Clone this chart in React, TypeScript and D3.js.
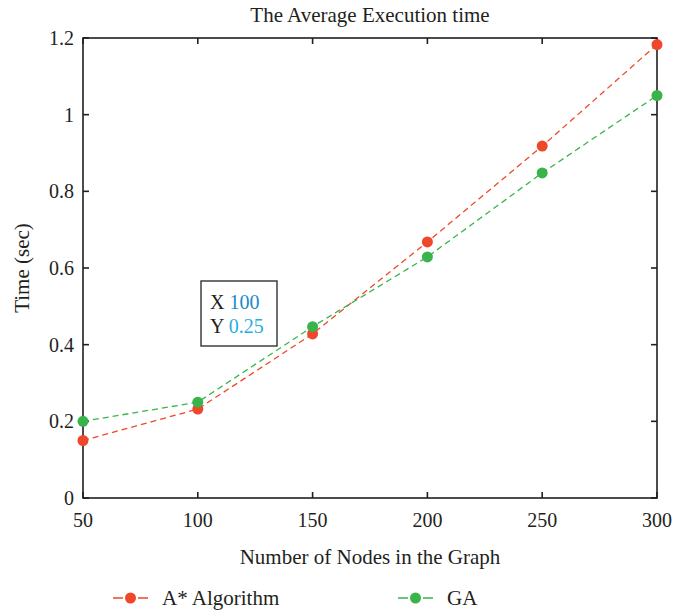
import { useEffect, useRef } from 'react';
import * as d3 from 'd3';

const nodes = [50, 100, 150, 200, 250, 300];
const astarTimes = [0.15, 0.232, 0.428, 0.668, 0.918, 1.183];
const gaTimes = [0.2, 0.25, 0.447, 0.629, 0.848, 1.05];
const xTicks = [50, 100, 150, 200, 250, 300];
const yTicks = [0, 0.2, 0.4, 0.6, 0.8, 1, 1.2];
const seriesNames = ['A* Algorithm', 'GA'];
const seriesColors = ['#ef4729', '#38b44a'];

const W = 673;
const H = 614;
const FONT = '"Liberation Serif", "DejaVu Serif", serif';
const INK = '#231f20';

export default function App() {
  const svgRef = useRef<SVGSVGElement>(null);

  useEffect(() => {
    const svg = d3.select(svgRef.current);
    svg.selectAll('*').remove();

    const m = { left: 83, right: 16, top: 38, bottom: 116 };
    const x = d3.scaleLinear().domain([50, 300]).range([m.left, W - m.right]);
    const y = d3.scaleLinear().domain([0, 1.2]).range([H - m.bottom, m.top]);
    const [x0, x1] = x.range();
    const [y0, y1] = y.range();

    // title
    svg.append('text')
      .attr('x', (x0 + x1) / 2).attr('y', 22)
      .attr('text-anchor', 'middle')
      .attr('font-family', FONT).attr('font-size', 21).attr('fill', INK)
      .text('The Average Execution time');

    // box + inward ticks
    const g = svg.append('g').attr('stroke', INK).attr('stroke-width', 1.6);
    g.append('rect')
      .attr('x', x0).attr('y', y1).attr('width', x1 - x0).attr('height', y0 - y1)
      .attr('fill', 'none');
    const tl = 6;
    xTicks.forEach((t) => {
      g.append('line').attr('x1', x(t)).attr('x2', x(t)).attr('y1', y0).attr('y2', y0 - tl);
      g.append('line').attr('x1', x(t)).attr('x2', x(t)).attr('y1', y1).attr('y2', y1 + tl);
    });
    yTicks.forEach((t) => {
      g.append('line').attr('x1', x0).attr('x2', x0 + tl).attr('y1', y(t)).attr('y2', y(t));
      g.append('line').attr('x1', x1).attr('x2', x1 - tl).attr('y1', y(t)).attr('y2', y(t));
    });

    // tick labels
    svg.append('g').selectAll('text').data(xTicks).join('text')
      .attr('x', (d) => x(d)).attr('y', y0 + 29)
      .attr('text-anchor', 'middle')
      .attr('font-family', FONT).attr('font-size', 20).attr('fill', INK)
      .text((d) => d3.format('d')(d));
    svg.append('g').selectAll('text').data(yTicks).join('text')
      .attr('x', x0 - 9).attr('y', (d) => y(d) + 7)
      .attr('text-anchor', 'end')
      .attr('font-family', FONT).attr('font-size', 20).attr('fill', INK)
      .text((d) => String(d));

    // axis labels
    svg.append('text')
      .attr('x', (x0 + x1) / 2).attr('y', 564)
      .attr('text-anchor', 'middle')
      .attr('font-family', FONT).attr('font-size', 21).attr('fill', INK)
      .text('Number of Nodes in the Graph');
    svg.append('text')
      .attr('transform', `translate(29,${(y0 + y1) / 2}) rotate(-90)`)
      .attr('text-anchor', 'middle')
      .attr('font-family', FONT).attr('font-size', 21).attr('fill', INK)
      .text('Time (sec)');

    // series
    const series = [astarTimes, gaTimes];
    const line = d3.line<number>().x((_, i) => x(nodes[i])).y((d) => y(d));
    series.forEach((vals, si) => {
      svg.append('path')
        .attr('d', line(vals))
        .attr('fill', 'none')
        .attr('stroke', seriesColors[si])
        .attr('stroke-width', 1.3)
        .attr('stroke-dasharray', '6,4');
    });
    series.forEach((vals, si) => {
      svg.append('g').selectAll('circle').data(vals).join('circle')
        .attr('cx', (_, i) => x(nodes[i])).attr('cy', (d) => y(d))
        .attr('r', 5.5)
        .attr('fill', seriesColors[si]);
    });

    // data tip
    const tip = svg.append('g');
    tip.append('rect')
      .attr('x', 201).attr('y', 281).attr('width', 76).attr('height', 65)
      .attr('fill', '#fff').attr('stroke', '#333').attr('stroke-width', 1.4);
    const tx = tip.append('text').attr('x', 210).attr('y', 309)
      .attr('font-family', FONT).attr('font-size', 20);
    tx.append('tspan').attr('fill', INK).text('X ');
    tx.append('tspan').attr('fill', '#1b88c9').text(String(nodes[1]));
    const ty = tip.append('text').attr('x', 210).attr('y', 333)
      .attr('font-family', FONT).attr('font-size', 20);
    ty.append('tspan').attr('fill', INK).text('Y ');
    ty.append('tspan').attr('fill', '#2aace2').text(String(gaTimes[1]));

    // legend
    const lx = [113, 398];
    seriesNames.forEach((name, si) => {
      const lg = svg.append('g');
      lg.append('line')
        .attr('x1', lx[si]).attr('x2', lx[si] + 35).attr('y1', 598).attr('y2', 598)
        .attr('stroke', seriesColors[si]).attr('stroke-width', 1.3)
        .attr('stroke-dasharray', '10,15');
      lg.append('circle').attr('cx', lx[si] + 17.5).attr('cy', 598).attr('r', 5.5)
        .attr('fill', seriesColors[si]);
      lg.append('text')
        .attr('x', lx[si] + 49).attr('y', 605)
        .attr('font-family', FONT).attr('font-size', 21).attr('fill', INK)
        .text(name);
    });
  }, []);

  return <svg ref={svgRef} width={W} height={H} style={{ display: 'block', position: 'absolute', left: 0, top: 0 }} />;
}
